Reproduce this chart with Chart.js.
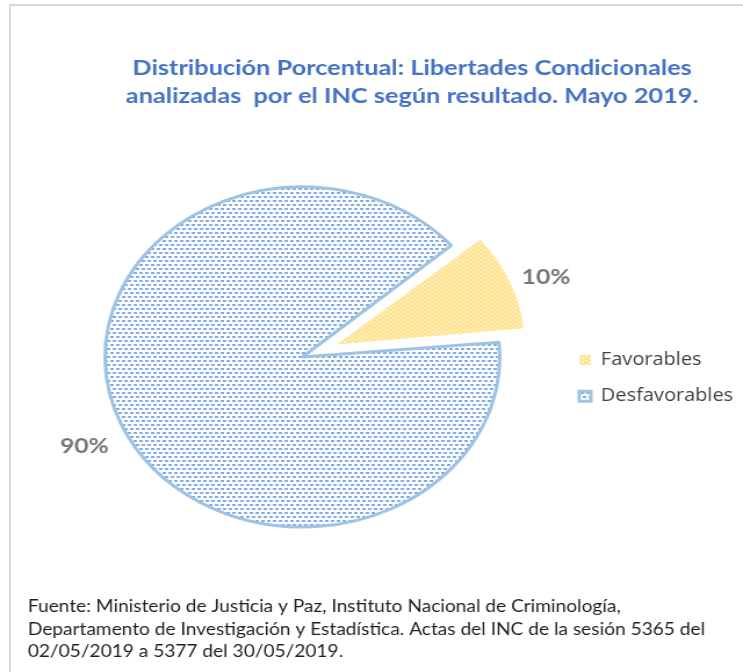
<!DOCTYPE html>
<html>
<head>
<meta charset="utf-8">
<script src="https://cdn.jsdelivr.net/npm/chart.js@4/dist/chart.umd.min.js"></script>
<style>
html, body { margin: 0; padding: 0; background: #ffffff; width: 743px; height: 672px; overflow: hidden; }
#frame { position: absolute; left: 9px; top: 4px; width: 780px; height: 720px; border-top: 2px solid #d9d9d9; border-left: 2px solid #d9d9d9; }
#c { position: absolute; left: 0; top: 0; }
</style>
</head>
<body>
<div id="frame"></div>
<canvas id="c" width="640" height="672" style="width:743px;height:672px"></canvas>
<script>
// ---- data ----
const categories = ['Favorables', 'Desfavorables'];
const percentValues = [10, 90];
const valueLabels = ['10%', '90%'];
const titleLines = [
  'Distribución Porcentual: Libertades Condicionales',
  'analizadas  por el INC según resultado. Mayo 2019.'
];
const sourceLines = [
  'Fuente: Ministerio de Justicia y Paz, Instituto Nacional de Criminología,',
  'Departamento de Investigación y Estadística. Actas del INC de la sesión 5365 del',
  '02/05/2019 a 5377 del 30/05/2019.'
];

// ---- fonts (fit widths of the reference) ----
const FONT_A = "Lato, 'Open Sans', sans-serif";
const FONT_B = "'Open Sans', 'DejaVu Sans', sans-serif";
const mctx = document.createElement('canvas').getContext('2d');
function fitSize(text, weight, family, targetWidth) {
  mctx.font = weight + ' 20px ' + family;
  return 20 * targetWidth / mctx.measureText(text).width;
}
const titleSize = fitSize(titleLines[0], 'bold', FONT_A, 482);
const footSize = fitSize(sourceLines[1], 'normal', FONT_A, 584);
const legendSize = fitSize(categories[1], 'normal', FONT_B, 114);
const labelSize = fitSize(valueLabels[1], 'bold', FONT_A, 42);

// ---- patterns ----
const ctx = document.getElementById('c').getContext('2d');
function makePattern(bg, fg, w, h, rects) {
  const t = document.createElement('canvas');
  t.width = w; t.height = h;
  const g = t.getContext('2d');
  g.fillStyle = bg; g.fillRect(0, 0, w, h);
  g.fillStyle = fg;
  rects.forEach(r => g.fillRect(r[0], r[1], r[2], r[3]));
  return ctx.createPattern(t, 'repeat');
}
const bluePattern = makePattern('#ffffff', '#84aedf', 10, 8, [[0,0,3,2],[5,0,3,2],[2,4,3,2],[7,4,3,2]]);
const yellowPattern = makePattern('#ffe38f', '#ffffff', 6, 4, [[0,0,2,1],[3,2,2,1]]);

// ---- plugins ----
const refLayout = {
  id: 'refLayout',
  afterLayout(chart, args, o) {
    const ca = chart.chartArea;
    ca.left = o.pieCenterX - o.areaHalfWidth;
    ca.right = o.pieCenterX + o.areaHalfWidth;
    ca.width = ca.right - ca.left;
    const tb = chart.titleBlock;
    if (tb) {
      const shift = o.titleCenterX - (tb.left + tb.right) / 2;
      tb.left += shift; tb.right += shift;
    }
    const lg = chart.legend;
    if (lg) {
      const lo = lg.options.labels;
      const w = lg.width;
      lg.left = o.legendBoxLeft - lo.padding;
      lg.right = lg.left + w;
      const itemH = Math.max(lo.font.size, lo.boxHeight);
      lg.top = o.legendFirstCenterY - lo.padding - itemH / 2;
    }
  },
  afterDatasetUpdate(chart, args, o) {
    args.meta.data.forEach(arc => {
      if (arc.options && arc.options.offset) arc.outerRadius *= o.explodedRadiusRatio;
    });
  }
};

const valueLabelPlugin = {
  id: 'valueLabels',
  afterDatasetsDraw(chart, args, o) {
    const meta = chart.getDatasetMeta(0);
    const c = chart.ctx;
    c.save();
    c.font = 'bold ' + o.size + 'px ' + FONT_A;
    c.fillStyle = o.color;
    c.textAlign = 'center';
    c.textBaseline = 'middle';
    meta.data.forEach((arc, i) => {
      const off = (arc.options.offset || 0) / 4;
      const mid = (arc.startAngle + arc.endAngle) / 2;
      const circ = arc.endAngle - arc.startAngle;
      const rOff = off * (1 - Math.sin(Math.min(Math.PI, circ)));
      const cx = arc.x + Math.cos(mid) * off;
      const cy = arc.y + Math.sin(mid) * off;
      const r = arc.outerRadius + rOff + o.gap;
      c.fillText(valueLabels[i], cx + Math.cos(mid) * r, cy + Math.sin(mid) * r + o.dy);
    });
    c.restore();
  }
};

// ---- chart ----
new Chart(ctx, {
  type: 'pie',
  data: {
    labels: categories,
    datasets: [{
      data: percentValues,
      backgroundColor: [yellowPattern, bluePattern],
      borderColor: ['#ffe699', '#9dc3e6'],
      borderWidth: [0, 3],
      offset: [128, 0],
      radius: 170,
      rotation: 49
    }]
  },
  plugins: [refLayout, valueLabelPlugin],
  options: {
    responsive: false,
    devicePixelRatio: 1,
    animation: false,
    events: [],
    layout: { padding: { left: 24, right: 0, top: 0, bottom: 0 } },
    plugins: {
      refLayout: { pieCenterX: 260.5, areaHalfWidth: 215, titleCenterX: 355, legendBoxLeft: 499, legendFirstCenterY: 360, explodedRadiusRatio: 0.875 },
      valueLabels: { size: labelSize, color: '#767676', gap: 34, dy: 9 },
      tooltip: { enabled: false },
      title: {
        display: true,
        text: titleLines,
        color: '#4472c4',
        align: 'center',
        font: { family: FONT_A, weight: 'bold', size: titleSize, lineHeight: '28px' },
        padding: { top: 54, bottom: 20 }
      },
      subtitle: {
        display: true,
        position: 'bottom',
        align: 'start',
        text: sourceLines,
        color: '#1f1f1f',
        font: { family: FONT_A, weight: 'normal', size: footSize, lineHeight: '22.5px' },
        padding: { top: 11.5, bottom: 9 }
      },
      legend: {
        display: true,
        position: 'right',
        align: 'start',
        labels: {
          boxWidth: 10,
          boxHeight: 10,
          padding: 19,
          color: '#404040',
          font: { family: FONT_B, size: legendSize }
        }
      }
    }
  }
});
</script>
</body>
</html>
